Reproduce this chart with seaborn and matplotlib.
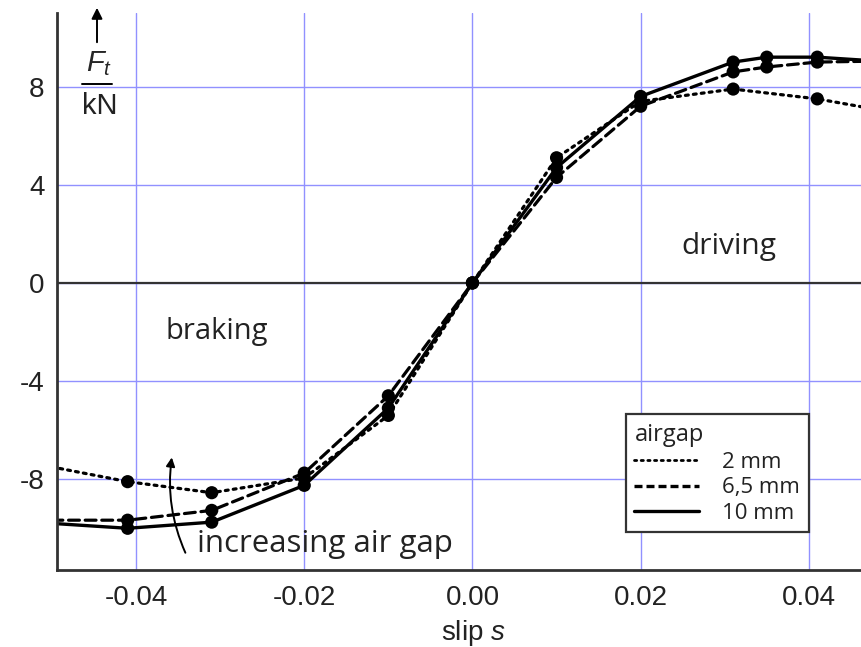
import numpy as np
import pandas as pd
import seaborn as sns
import matplotlib.pyplot as plt
from matplotlib.lines import Line2D
from matplotlib.ticker import MultipleLocator

# tangential force F_t (kN) vs. slip s
slip_2mm = [-0.05, -0.041, -0.031, -0.020, -0.010, 0.0, 0.010, 0.020, 0.031, 0.041, 0.05]
ft_2mm = [-7.5, -8.1, -8.55, -7.95, -5.4, 0.0, 5.1, 7.4, 7.9, 7.5, 6.95]

slip_65mm = [-0.05, -0.041, -0.031, -0.020, -0.010, 0.0, 0.010, 0.020, 0.031, 0.035, 0.041, 0.05]
ft_65mm = [-9.67, -9.67, -9.27, -7.75, -4.6, 0.0, 4.3, 7.2, 8.6, 8.8, 9.0, 9.05]

slip_10mm = [-0.05, -0.041, -0.031, -0.020, -0.010, 0.0, 0.010, 0.020, 0.031, 0.035, 0.041, 0.05]
ft_10mm = [-9.8, -10.0, -9.75, -8.25, -5.1, 0.0, 4.7, 7.6, 9.0, 9.2, 9.2, 9.0]

airgaps = ["2 mm", "6,5 mm", "10 mm"]
xtick_labels = ["-0.04", "-0.02", "0.00", "0.02", "0.04"]
ytick_labels = ["-8", "-4", "0", "4", "8"]

df = pd.concat([
    pd.DataFrame({"slip": slip_2mm, "Ft": ft_2mm, "airgap": airgaps[0]}),
    pd.DataFrame({"slip": slip_65mm, "Ft": ft_65mm, "airgap": airgaps[1]}),
    pd.DataFrame({"slip": slip_10mm, "Ft": ft_10mm, "airgap": airgaps[2]}),
], ignore_index=True)

# measured points (the outermost values only continue the line to the frame)
inner = pd.concat([g.iloc[1:-1] for _, g in df.groupby("airgap", sort=False)])

sns.set_style("white")
plt.rcParams["font.family"] = ["Liberation Sans", "DejaVu Sans"]
plt.rcParams["mathtext.fontset"] = "custom"
plt.rcParams["mathtext.rm"] = "Liberation Sans"
plt.rcParams["mathtext.it"] = "Liberation Sans:italic"

fig = plt.figure(figsize=(8.61, 6.47), dpi=100)
ax = fig.add_axes([57 / 861, 77 / 647, 804 / 861, 557 / 647])

styles = {"2 mm": (0, (0.9, 1.6)), "6,5 mm": (0, (3.4, 1.8)), "10 mm": "-"}
widths = {"2 mm": 2.3, "6,5 mm": 2.3, "10 mm": 2.4}

for gap in airgaps:
    sub = df[df.airgap == gap]
    sns.lineplot(data=sub, x="slip", y="Ft", color="black", lw=widths[gap],
                 ax=ax, sort=False, legend=False, linestyle=styles[gap],
                 dash_capstyle="round")

sns.scatterplot(data=inner, x="slip", y="Ft", color="black", s=90,
                edgecolor="none", ax=ax, legend=False, zorder=5)

ax.set_xlim(-0.0494, 0.0462)
ax.set_ylim(-11.7, 11.0)
ax.xaxis.set_minor_locator(MultipleLocator(0.01))
ax.yaxis.set_minor_locator(MultipleLocator(2))
ax.set_xticks([-0.04, -0.02, 0.0, 0.02, 0.04])
ax.set_xticklabels(xtick_labels)
ax.set_yticks([-8, -4, 0, 4, 8])
ax.set_yticklabels(ytick_labels)

ax.grid(True, which="major", color="#9191ff", lw=1.0)
ax.axhline(0, color="#333333", lw=1.6, zorder=2)
ax.tick_params(which="both", direction="in", color="#333333", labelsize=20,
               labelcolor="#222222", width=1.3)
ax.tick_params(axis="x", pad=11)
ax.tick_params(axis="y", pad=9)
ax.tick_params(which="major", length=6)
ax.tick_params(which="minor", length=4)
for side in ["top", "right"]:
    ax.spines[side].set_visible(False)
for side in ["left", "bottom"]:
    ax.spines[side].set_color("#333333")
    ax.spines[side].set_linewidth(2)

ax.set_xlabel("")
ax.set_ylabel("")
fig.text(473 / 861, 1 - 633 / 647, "slip $s$", ha="center", va="center",
         fontsize=20, color="#222222")

# y axis label inside the frame: F_t over kN, with an arrow
fig.text(99 / 861, 1 - 64 / 647, "$F_t$", ha="center", va="center", fontsize=21)
fig.text(100 / 861, 1 - 106 / 647, "kN", ha="center", va="center", fontsize=21,
         color="#222222")
fig.add_artist(Line2D([82 / 861, 112 / 861], [1 - 84 / 647, 1 - 84 / 647],
                      color="black", lw=1.4))
ax.annotate("", xy=(97 / 861, 1 - 5 / 647), xytext=(97 / 861, 1 - 45 / 647),
            xycoords="figure fraction", textcoords="figure fraction",
            arrowprops=dict(arrowstyle="-|>", color="black", lw=1.4,
                            mutation_scale=16), annotation_clip=False)

txt = dict(family=["Open Sans", "DejaVu Sans"], color="#222222")
ax.text(-0.0304, -2.0, "braking", ha="center", va="center", fontsize=21, **txt)
ax.text(0.0305, 1.5, "driving", ha="center", va="center", fontsize=21.5, **txt)
ax.text(-0.0327, -10.65, "increasing air gap", ha="left", va="center",
        fontsize=22.5, **txt)
ax.annotate("", xy=(-0.0357, -7.0), xytext=(-0.0340, -11.1),
            arrowprops=dict(arrowstyle="-|>", color="black", lw=1.4,
                            mutation_scale=13, connectionstyle="arc3,rad=-0.15"))

handles = [Line2D([], [], color="black", lw=2.0, linestyle=(0, (0.8, 1.6)),
                  dash_capstyle="round"),
           Line2D([], [], color="black", lw=2.4, linestyle=(0, (2.4, 1.2))),
           Line2D([], [], color="black", lw=2.4)]
leg = ax.legend(handles, airgaps, title="airgap", loc="lower left",
                bbox_to_anchor=(626 / 861, 1 - 532 / 647), bbox_transform=fig.transFigure,
                frameon=True, fancybox=False, edgecolor="#333333", framealpha=1,
                prop={"family": ["Open Sans", "DejaVu Sans"], "size": 16},
                handlelength=2.9, handletextpad=1.05, labelspacing=0.19,
                borderpad=0.38, borderaxespad=0)
leg.get_title().set_fontproperties({"family": ["Open Sans", "DejaVu Sans"], "size": 17})
leg.get_title().set_color("#222222")
for t in leg.get_texts():
    t.set_color("#222222")
leg._legend_box.align = "left"
leg._legend_box.sep = 4
leg.get_frame().set_linewidth(1.6)

fig.savefig("out.png", dpi=100)
